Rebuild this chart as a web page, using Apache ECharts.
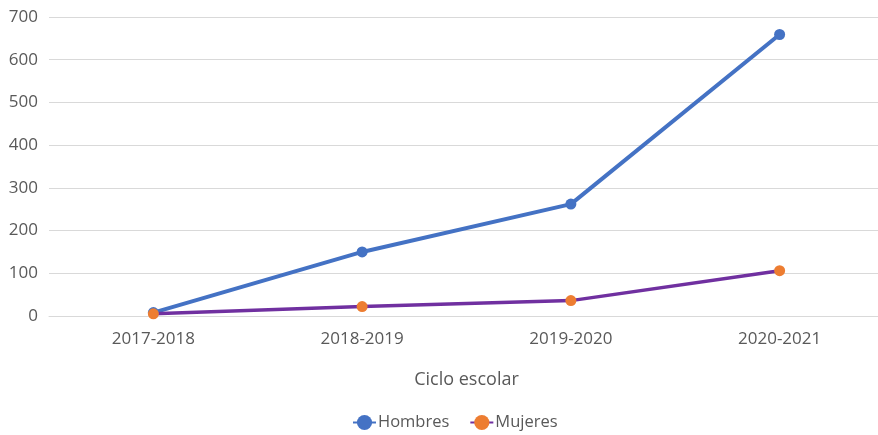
<!DOCTYPE html>
<html><head><meta charset="utf-8">
<script src="https://cdn.jsdelivr.net/npm/echarts@6/dist/echarts.min.js"></script>
<style>html,body{margin:0;padding:0;background:#fff}#c{width:878px;height:435px}</style>
</head><body><div id="c"></div>
<script>
const categories = ['2017-2018', '2018-2019', '2019-2020', '2020-2021'];
const hombres = [8, 150, 262, 659];
const mujeres = [5, 22, 36, 106];
const yTicks = [0, 100, 200, 300, 400, 500, 600, 700];

const font = '"Open Sans", sans-serif';
const chart = echarts.init(document.getElementById('c'), null, {renderer: 'canvas'});
chart.setOption({
  animation: false,
  backgroundColor: '#fff',
  grid: {left: 49, top: 17, width: 835, height: 299, containLabel: false, outerBoundsMode: 'none'},
  legend: {
    top: 409, left: 347, itemWidth: 23, itemHeight: 19, itemGap: 20,
    textStyle: {color: '#595959', fontSize: 16.5, fontFamily: font, padding: [0, 0, 0, -3]},
    data: ['Hombres', 'Mujeres']
  },
  xAxis: {
    type: 'category', data: categories, boundaryGap: true,
    name: 'Ciclo escolar', nameLocation: 'middle', nameGap: 55,
    nameTextStyle: {color: '#595959', fontSize: 18, fontFamily: font},
    axisLine: {show: true, lineStyle: {color: '#d9d9d9', width: 1}},
    axisTick: {show: false},
    axisLabel: {color: '#595959', fontSize: 17, fontFamily: font, margin: 15}
  },
  yAxis: {
    type: 'value', min: 0, max: yTicks[yTicks.length - 1], interval: 100,
    axisLine: {show: false}, axisTick: {show: false},
    splitLine: {lineStyle: {color: '#d9d9d9', width: 1}},
    axisLabel: {color: '#595959', fontSize: 17, fontFamily: font, margin: 11}
  },
  series: [
    {
      name: 'Hombres', type: 'line', data: hombres,
      symbol: 'circle', symbolSize: 11,
      lineStyle: {color: '#4472C4', width: 4},
      itemStyle: {color: '#4472C4'}
    },
    {
      name: 'Mujeres', type: 'line', data: mujeres,
      symbol: 'circle', symbolSize: 11,
      lineStyle: {color: '#7030A0', width: 3.5},
      itemStyle: {color: '#ED7D31'}
    }
  ]
});
</script></body></html>
